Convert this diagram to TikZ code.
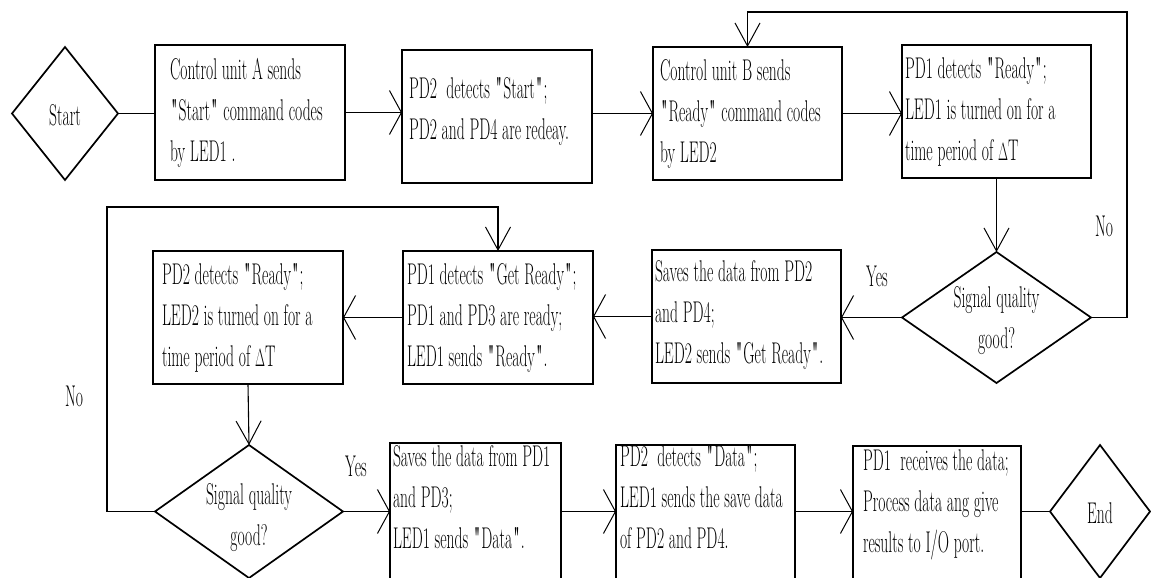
\documentclass[tikz,border=0pt]{standalone}
\usepackage{graphicx}
\usepackage{fontspec}
\setmainfont{Latin Modern Roman}[Ligatures=TeXOff]
\usetikzlibrary{shapes.geometric,arrows.meta}
\newcommand\tx[1]{\scalebox{0.52}[1]{\fontsize{30}{41}\selectfont\begin{tabular}{@{}l@{}}#1\end{tabular}}}
\newcommand\ctx[1]{\scalebox{0.52}[1]{\fontsize{30}{41}\selectfont\begin{tabular}{@{}c@{}}#1\end{tabular}}}
\newcommand\bxt[4]{\makebox[#1pt][l]{\hspace*{#2pt}\smash{\raisebox{#3pt}{\tx{#4}}}}}
\newcommand\dtx[2]{\makebox[0pt]{\smash{\raisebox{#1pt}{\ctx{#2}}}}}
\newcommand\qd{\scalebox{1.7}[1]{"}}
\begin{document}
\begin{tikzpicture}[x=1pt,y=-1pt,
  box/.style={draw,rectangle,line width=1.7pt,inner sep=0pt,outer sep=0pt},
  dia/.style={draw,diamond,line width=1.7pt,inner sep=0pt,outer sep=0pt},
  conn/.style={line width=1.7pt},
  tconn/.style={line width=1.1pt},
  harr/.style={-{Straight Barb[length=12pt,width=44pt,line width=1pt]}},
  varr/.style={-{Straight Barb[length=23pt,width=25pt,line width=1pt]}},
  lbl/.style={inner sep=0pt}]
\useasboundingbox (0,0) rectangle (1151,578);
\clip (0,0) rectangle (1151,578);
% top row
\node[dia,minimum width=106pt,minimum height=133pt] (start) at (65,113.5) {\dtx{-10}{Start}};
\node[box,minimum width=190pt,minimum height=135pt] (A) at (250,112.5)
  {\bxt{190}{15}{-6}{Control unit A sends\\\qd Start\qd{} command codes\\by LED1 .}};
\node[box,minimum width=190pt,minimum height=133pt] (B) at (497,116.5)
  {\bxt{190}{7}{-1}{PD2~~detects \qd Start\qd;\\PD2 and PD4 are redeay.}};
\node[box,minimum width=189pt,minimum height=133pt] (C) at (747.5,113.5)
  {\bxt{189}{7}{-6}{Control unit B sends\\\qd Ready\qd{} command codes\\by LED2}};
\node[box,minimum width=189pt,minimum height=133pt] (D) at (996.5,111.5)
  {\bxt{189}{3}{-6}{PD1 detects \qd Ready\qd;\\LED1 is turned on for a\\time period of $\Delta$T}};
% middle row
\node[dia,minimum width=189pt,minimum height=131pt] (dq1) at (996.5,317.5) {\dtx{-9}{Signal quality\\good?}};
\node[box,minimum width=189pt,minimum height=133pt] (E) at (746.5,316.5)
  {\bxt{189}{3}{-4}{Saves the data from PD2\\and PD4;\\LED2 sends \qd Get Ready\qd.}};
\node[box,minimum width=190pt,minimum height=133pt] (F) at (498,317.5)
  {\bxt{190}{4}{-6}{PD1 detects \qd Get Ready\qd;\\PD1 and PD3 are ready;\\LED1 sends \qd Ready\qd.}};
\node[box,minimum width=190pt,minimum height=133pt] (G) at (248,317.5)
  {\bxt{190}{9}{-6}{PD2 detects \qd Ready\qd;\\LED2 is turned on for a\\time period of $\Delta$T}};
% bottom row
\node[dia,minimum width=188pt,minimum height=133pt] (dq2) at (249,511.5) {\dtx{-12}{Signal quality\\good?}};
\node[box,minimum width=171pt,minimum height=147pt] (H) at (475.5,516.5)
  {\bxt{171}{3}{11}{Saves the data from PD1\\and PD3;\\LED1 sends \qd Data\qd.}};
\node[box,minimum width=179pt,minimum height=145pt] (I) at (705.5,517.5)
  {\bxt{179}{4}{11.5}{PD2~~detects \qd Data\qd;\\LED1 sends the save data\\of PD2 and PD4.}};
\node[box,minimum width=168pt,minimum height=144pt] (J) at (937,518)
  {\bxt{168}{10}{8}{PD1~~receives the data;\\Process data ang give\\results to I/O port.}};
\node[dia,minimum width=100pt,minimum height=133pt] (end) at (1100,511.5) {\dtx{-10}{End}};
% labels
\node[lbl] (no1) at (1104,228) {\tx{No}};
\node[lbl] (yes1) at (877,278) {\tx{Yes}};
\node[lbl] (no2) at (74,398) {\tx{No}};
\node[lbl] (yes2) at (356,468) {\tx{Yes}};
% helper coordinates
\coordinate (r1) at (1127,12);
\coordinate (l1) at (107,207);
% connectors
\draw[conn] (start.east) -- (start.east -| A.west);
\draw[conn,harr] (A.east) -- (A.east -| B.west);
\draw[conn,harr] (B.east |- C.west) -- (C.west);
\draw[conn,harr] (C.east) -- (C.east -| D.west);
\draw[tconn,varr] (D.south) -- (dq1.north);
\draw[conn,varr] (dq1.east) -| (r1) -| (C.north);
\draw[conn,harr] (dq1.west) -- (dq1.west -| E.east);
\draw[tconn,harr] (E.west) -- (E.west -| F.east);
\draw[tconn,harr] (F.west) -- (F.west -| G.east);
\draw[tconn,varr] (dq2.west) -| (l1) -| (F.north);
\draw[tconn,varr] (G.south) -- (dq2.north);
\draw[conn,harr] (dq2.east) -- (dq2.east -| H.west);
\draw[conn,harr] (H.east |- dq2.east) -- (I.west |- dq2.east);
\draw[conn,harr] (I.east |- dq2.east) -- (J.west |- dq2.east);
\draw[conn] (J.east |- end.west) -- (end.west);
\end{tikzpicture}
\end{document}
